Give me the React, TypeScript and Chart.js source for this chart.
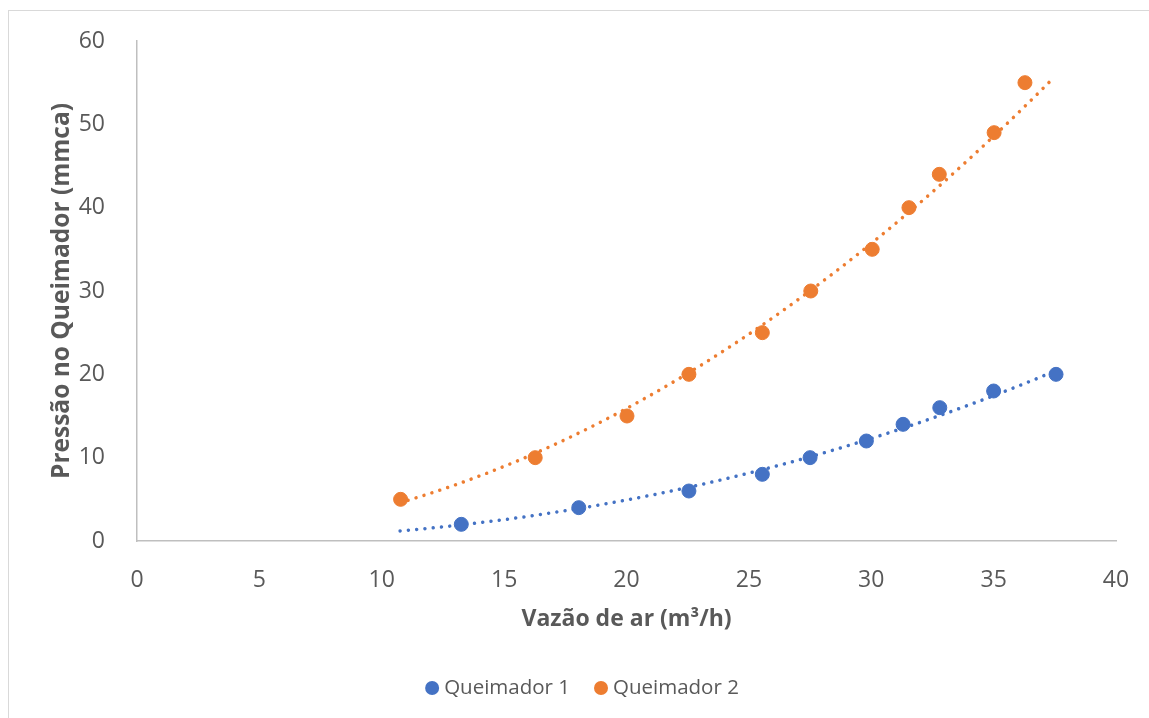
import { useEffect, useRef } from "react";
import { Chart, registerables } from "chart.js";

Chart.register(...registerables);

// Measured air flow (m³/h) and burner pressure (mmca)
const vazaoQ1 = [13.25, 18.05, 22.55, 25.55, 27.5, 29.8, 31.3, 32.8, 35.0, 37.55];
const pressaoQ1 = [2, 4, 6, 8, 10, 12, 14, 16, 18, 20];
const vazaoQ2 = [10.77, 16.27, 20.02, 22.55, 25.55, 27.53, 30.04, 31.54, 32.78, 35.02, 36.28];
const pressaoQ2 = [5, 10, 15, 20, 25, 30, 35, 40, 44, 49, 55];

const seriesNames = ["Queimador 1", "Queimador 2"];
const seriesColors = ["#4472C4", "#ED7D31"];

// Trendline span (x range the power curves are drawn over)
const trendFrom = 10.75;
const trendTo = 37.4;

const xTicks = [0, 5, 10, 15, 20, 25, 30, 35, 40];
const yTicks = [0, 10, 20, 30, 40, 50, 60];

const FONT = "'Open Sans', sans-serif";
const TEXT = "#595959";

// Power trendline y = a·x^b, least squares on ln(x), ln(y)
function powerFit(xs: number[], ys: number[]) {
  const lx = xs.map(Math.log);
  const ly = ys.map(Math.log);
  const n = xs.length;
  const mx = lx.reduce((s, v) => s + v, 0) / n;
  const my = ly.reduce((s, v) => s + v, 0) / n;
  let sxy = 0;
  let sxx = 0;
  for (let i = 0; i < n; i++) {
    sxy += (lx[i] - mx) * (ly[i] - my);
    sxx += (lx[i] - mx) * (lx[i] - mx);
  }
  const b = sxy / sxx;
  const a = Math.exp(my - b * mx);
  return { a, b };
}

function trendPoints(xs: number[], ys: number[]) {
  const { a, b } = powerFit(xs, ys);
  const n = 80;
  const pts = [];
  for (let i = 0; i <= n; i++) {
    const x = trendFrom + ((trendTo - trendFrom) * i) / n;
    pts.push({ x, y: a * Math.pow(x, b) });
  }
  return pts;
}

function toPoints(xs: number[], ys: number[]) {
  return xs.map((x, i) => ({ x, y: ys[i] }));
}

const legendPlugin = {
  id: "bottomLegend",
  afterDraw(chart: any) {
    const ctx = chart.ctx as CanvasRenderingContext2D;
    ctx.save();
    ctx.font = `20.5px ${FONT}`;
    ctx.textBaseline = "middle";
    const r = 7;
    const gapMarker = 5;
    const gapItems = 24;
    const widths = seriesNames.map((n) => ctx.measureText(n).width);
    const total = widths.reduce((s, w) => s + w + r * 2 + gapMarker, 0) + gapItems;
    let x = 582 - total / 2;
    const y = 688;
    seriesNames.forEach((name, i) => {
      ctx.fillStyle = seriesColors[i];
      ctx.beginPath();
      ctx.arc(x + r, y, r, 0, Math.PI * 2);
      ctx.fill();
      x += r * 2 + gapMarker;
      ctx.fillStyle = TEXT;
      ctx.fillText(name, x, y);
      x += widths[i] + gapItems;
    });
    ctx.restore();
  },
};

export default function App() {
  const canvasRef = useRef<HTMLCanvasElement | null>(null);

  useEffect(() => {
    if (!canvasRef.current) return;
    const trendStyle = (color: string) => ({
      showLine: true,
      borderColor: color,
      backgroundColor: color,
      borderWidth: 3.5,
      borderDash: [0.01, 8.3],
      borderCapStyle: "round",
      pointRadius: 0,
      pointHoverRadius: 0,
      tension: 0,
      order: 2,
    });
    const chart = new Chart(canvasRef.current, {
      type: "scatter",
      data: {
        datasets: [
          {
            label: seriesNames[0],
            data: toPoints(vazaoQ1, pressaoQ1),
            backgroundColor: seriesColors[0],
            borderColor: seriesColors[0],
            pointRadius: 7,
            pointHoverRadius: 7,
            order: 1,
          },
          {
            label: seriesNames[1],
            data: toPoints(vazaoQ2, pressaoQ2),
            backgroundColor: seriesColors[1],
            borderColor: seriesColors[1],
            pointRadius: 7,
            pointHoverRadius: 7,
            order: 1,
          },
          {
            label: "Potência (Queimador 1)",
            data: trendPoints(vazaoQ1, pressaoQ1),
            ...trendStyle(seriesColors[0]),
          } as any,
          {
            label: "Potência (Queimador 2)",
            data: trendPoints(vazaoQ2, pressaoQ2),
            ...trendStyle(seriesColors[1]),
          } as any,
        ],
      },
      options: {
        animation: false,
        responsive: false,
        layout: { padding: { left: 0, right: 33, top: 41, bottom: 0 } },
        plugins: {
          legend: { display: false },
          tooltip: { enabled: false },
        },
        scales: {
          x: {
            type: "linear",
            min: 0,
            max: 40,
            afterBuildTicks: (s: any) => {
              s.ticks = xTicks.map((v) => ({ value: v }));
            },
            afterFit: (s: any) => {
              s.height = 177;
            },
            grid: { display: false },
            border: { display: true, color: "#BFBFBF", width: 1.5 },
            ticks: {
              padding: 18,
              color: TEXT,
              font: { family: FONT, size: 23 },
            },
            title: {
              display: true,
              text: "Vazão de ar (m³/h)",
              color: TEXT,
              font: { family: FONT, size: 23, weight: "bold" },
              padding: { top: 0, bottom: 85 },
            },
          },
          y: {
            type: "linear",
            min: 0,
            max: 60,
            afterBuildTicks: (s: any) => {
              s.ticks = yTicks.map((v) => ({ value: v }));
            },
            afterFit: (s: any) => {
              s.width = 137;
            },
            grid: { display: false },
            border: { display: true, color: "#BFBFBF", width: 1.5 },
            ticks: {
              padding: 24,
              color: TEXT,
              font: { family: FONT, size: 23 },
            },
            title: {
              display: true,
              text: "Pressão no Queimador (mmca)",
              color: TEXT,
              font: { family: FONT, size: 24.5, weight: "bold" },
              padding: { top: 47, bottom: 0 },
            },
          },
        },
      },
      plugins: [legendPlugin],
    });
    return () => chart.destroy();
  }, []);

  return (
    <div style={{ position: "fixed", left: 0, top: 0, width: 1149, height: 718, background: "#fff" }}>
      <div
        style={{
          position: "absolute",
          left: 8,
          top: 10,
          width: 1141,
          height: 708,
          borderLeft: "1.5px solid #D9D9D9",
          borderTop: "1.5px solid #D9D9D9",
          boxSizing: "border-box",
        }}
      />
      <canvas
        ref={canvasRef}
        width={1149}
        height={718}
        style={{ position: "absolute", left: 0, top: 0, width: 1149, height: 718 }}
      />
    </div>
  );
}
